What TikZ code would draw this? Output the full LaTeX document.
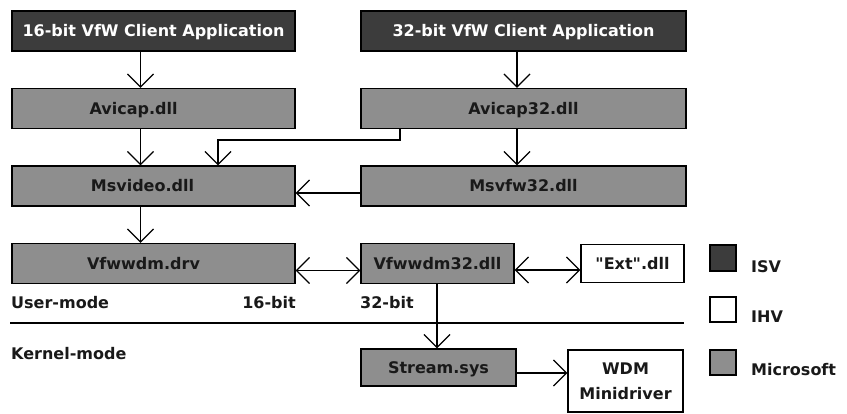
\documentclass[tikz,border=0pt]{standalone}
\usepackage{fontspec}
\setmainfont{DejaVu Sans}
\usetikzlibrary{arrows.meta}
\definecolor{isvgray}{HTML}{3C3C3C}
\definecolor{msgray}{HTML}{8E8E8E}
\newcommand{\vfwfont}{\fontsize{16}{25}\selectfont\bfseries}
\begin{document}
\begin{tikzpicture}[x=1pt,y=-1pt,
  box/.style={draw,line width=1.2pt,inner sep=0pt,font=\vfwfont},
  row/.style={box,minimum height=40pt,text height=11.7pt,text depth=0pt},
  isvbox/.style={row,fill=isvgray,text=white},
  msbox/.style={row,fill=msgray,text=black!90},
  ihvbox/.style={row,fill=white,text=black!90},
  keybox/.style={box,minimum width=26pt,minimum height=26pt},
  lbl/.style={inner sep=0pt,font=\vfwfont,text=black!90},
  arr/.style={line width=1.3pt,-{Straight Barb[length=13pt,width=26pt]}},
  darr/.style={line width=1.3pt,{Straight Barb[length=13pt,width=26pt]}-{Straight Barb[length=13pt,width=26pt]}}]
\useasboundingbox (0,0) rectangle (847,413);
\node[isvbox,minimum width=283pt] (app16) at (153.5,31) {16-bit VfW Client Application};
\node[isvbox,minimum width=325pt] (app32) at (523.5,31) {32-bit VfW Client Application};
\node[msbox,minimum width=283pt] (avicap) at (153.5,108.5) {Avicap.dll\hspace*{40pt}};
\node[msbox,minimum width=325pt] (avicap32) at (523.5,108.5) {Avicap32.dll};
\node[msbox,minimum width=283pt] (msvideo) at (153.5,186) {Msvideo.dll\hspace*{22pt}};
\node[msbox,minimum width=325pt] (msvfw) at (523.5,186) {Msvfw32.dll};
\node[msbox,minimum width=283pt] (vfwdrv) at (153.5,263.5) {Vfwwdm.drv\hspace*{20pt}};
\node[msbox,minimum width=153pt] (vfw32) at (437.5,263.5) {Vfwwdm32.dll};
\node[ihvbox,minimum width=103pt,minimum height=38pt] (ext) at (632.5,263.5) {\textquotedbl Ext\textquotedbl.dll};
\node[msbox,minimum width=155pt,minimum height=37pt] (stream) at (438.5,367.5) {Stream.sys};
\node[box,fill=white,text=black!90,minimum width=115pt,minimum height=62pt,align=center] (wdm) at (625.5,381) {WDM\\Minidriver};
\node[lbl,anchor=base west] (umode) at (11,308) {User-mode};
\node[lbl,anchor=base east] (b16) at (296,308) {16-bit};
\node[lbl,anchor=base west] (b32) at (360,308) {32-bit};
\node[lbl,anchor=base west] (kmode) at (11,359) {Kernel-mode};
\draw[line width=1.2pt] (10,323) -- (684,323);
\node[keybox,fill=isvgray] (isv) at (723,258) {};
\node[keybox,fill=white,minimum height=25pt] (ihv) at (723,309.5) {};
\node[keybox,fill=msgray,minimum height=25pt] (ms) at (723,362.5) {};
\node[lbl,anchor=base west] (isvl) at (751,272) {ISV};
\node[lbl,anchor=base west] (ihvl) at (751,322) {IHV};
\node[lbl,anchor=base west] (msl) at (751,375) {Microsoft};
\draw[arr] ([xshift=-13pt]app16.south) -- ([xshift=-13pt]avicap.north);
\draw[arr] ([xshift=-6.5pt]app32.south) -- ([xshift=-6.5pt]avicap32.north);
\draw[arr] ([xshift=-13pt]avicap.south) -- ([xshift=-13pt]msvideo.north);
\draw[arr] ([xshift=-6.5pt]avicap32.south) -- ([xshift=-6.5pt]msvfw.north);
\draw[arr] ([xshift=-123.5pt]avicap32.south) -- ++(0,11) -| ([xshift=64.5pt]msvideo.north);
\draw[arr] ([yshift=-7pt]msvfw.west) -- ([yshift=-7pt]msvideo.east);
\draw[arr] ([xshift=-13pt]msvideo.south) -- ([xshift=-13pt]vfwdrv.north);
\draw[darr] ([yshift=-7pt]vfwdrv.east) -- ([yshift=-7pt]vfw32.west);
\draw[darr] ([yshift=-6.5pt]vfw32.east) -- ([yshift=-6.5pt]ext.west);
\draw[arr] ([xshift=-0.5pt]vfw32.south) -- ([xshift=-1.5pt]stream.north);
\coordinate (s) at ([yshift=-5.5pt]stream.east);
\draw[arr] (s) -- (s -| wdm.west);
\end{tikzpicture}
\end{document}
